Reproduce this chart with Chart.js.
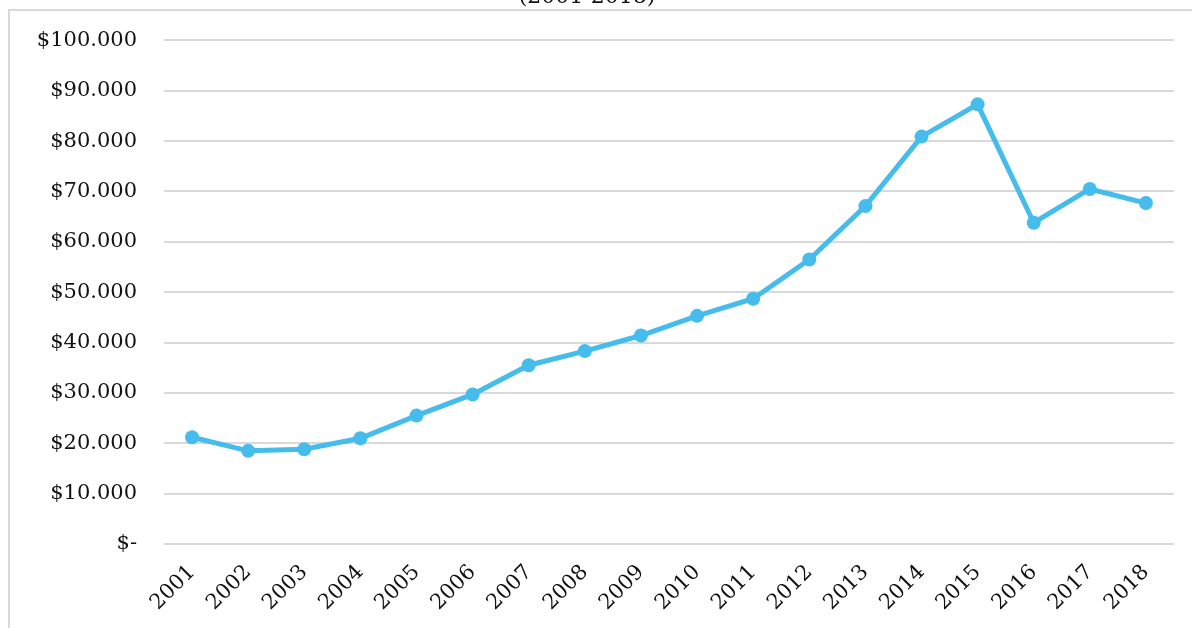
<!DOCTYPE html>
<html>
<head>
<meta charset="utf-8">
<script src="https://cdn.jsdelivr.net/npm/chart.js@4/dist/chart.umd.min.js"></script>
<style>
  html, body { margin: 0; padding: 0; background: #fff; overflow: hidden; }
  body { width: 1192px; height: 628px; position: relative; }
  #wrap { position: absolute; left: 0; top: -30px; width: 1192px; height: 658px; }
  #frame {
    position: absolute; left: 8px; top: 9px; width: 1300px; height: 700px;
    border-top: 2px solid #d9d9d9; border-left: 2px solid #d9d9d9;
    pointer-events: none;
  }
</style>
</head>
<body>
<div id="wrap"><canvas id="c" width="1192" height="658"></canvas></div>
<div id="frame"></div>
<script>
// Yearly values, 2001-2018
const years = ['2001','2002','2003','2004','2005','2006','2007','2008','2009',
               '2010','2011','2012','2013','2014','2015','2016','2017','2018'];
const values = [21200, 18500, 18800, 21000, 25500, 29700, 35500, 38300, 41400,
                45300, 48700, 56500, 67100, 80900, 87300, 63800, 70500, 67700];
const titleText = '(2001-2018)';
const yMin = 0, yMax = 100000, yStep = 10000;

const FONT = "'DejaVu Serif', 'Liberation Serif', serif";
const LINE_COLOR = '#45bceb';
const TEXT_COLOR = '#111';

function money(v) {
  if (v === 0) return '$-';
  return '$' + String(v).replace(/\B(?=(\d{3})+(?!\d))/g, '.');
}

new Chart(document.getElementById('c'), {
  type: 'line',
  data: {
    labels: years,
    datasets: [{
      data: values,
      borderColor: LINE_COLOR,
      backgroundColor: LINE_COLOR,
      borderWidth: 5,
      pointRadius: 7,
      pointBorderWidth: 0,
      pointBackgroundColor: LINE_COLOR,
      tension: 0,
      fill: false
    }]
  },
  options: {
    responsive: false,
    animation: false,
    layout: { padding: { left: 0, right: 18, top: 0, bottom: 0 } },
    plugins: {
      legend: { display: false },
      tooltip: { enabled: false },
      title: {
        display: true,
        text: titleText,
        color: TEXT_COLOR,
        font: { family: FONT, size: 22, weight: 'normal' },
        padding: { top: 14, bottom: 30 }
      }
    },
    scales: {
      x: {
        offset: true,
        grid: { display: false },
        border: { display: false },
        ticks: {
          color: TEXT_COLOR,
          font: { family: FONT, size: 21 },
          minRotation: 45,
          maxRotation: 45,
          padding: 8,
          autoSkip: false
        },
        afterFit(scale) { scale.height = 84; }
      },
      y: {
        min: yMin,
        max: yMax,
        grid: { color: '#d9d9d9', lineWidth: 2, drawTicks: false },
        border: { display: false },
        ticks: {
          stepSize: yStep,
          color: TEXT_COLOR,
          font: { family: FONT, size: 21 },
          padding: 27,
          callback: (v) => money(v)
        },
        afterFit(scale) { scale.width = 164; }
      }
    }
  }
});
</script>
</body>
</html>
